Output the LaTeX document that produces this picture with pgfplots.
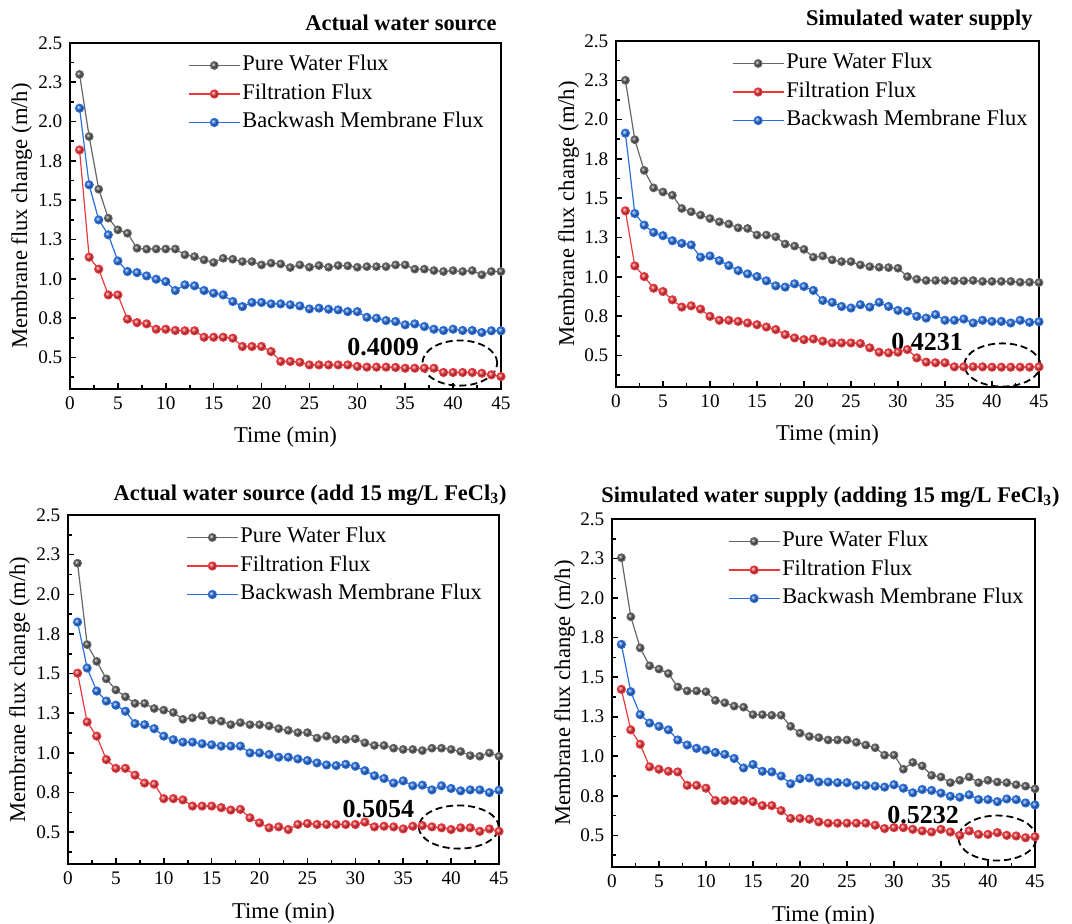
\documentclass[border=0pt]{standalone}
\usepackage{pgfplots}
\pgfplotsset{compat=1.18}
\usepackage{pgfplotstable}
\usepackage{fontspec}
\setmainfont{Liberation Serif}

\definecolor{cgray}{HTML}{555555}
\definecolor{cgrayl}{HTML}{666666}
\definecolor{cred}{HTML}{E8393E}
\definecolor{cblue}{HTML}{2B6FDA}

\pgfplotstableread{
x pure filt back
1 2.300 1.820 2.085
2 1.905 1.138 1.598
3 1.570 1.062 1.375
4 1.386 0.898 1.280
5 1.312 0.898 1.114
6 1.290 0.744 1.047
7 1.195 0.722 1.040
8 1.189 0.714 1.019
9 1.190 0.680 0.998
10 1.190 0.680 0.983
11 1.190 0.672 0.926
12 1.153 0.670 0.962
13 1.142 0.670 0.956
14 1.121 0.629 0.926
15 1.104 0.629 0.909
16 1.131 0.629 0.898
17 1.125 0.623 0.856
18 1.110 0.570 0.824
19 1.110 0.570 0.850
20 1.089 0.570 0.850
21 1.100 0.538 0.841
22 1.095 0.475 0.841
23 1.072 0.475 0.835
24 1.089 0.470 0.828
25 1.074 0.453 0.809
26 1.085 0.453 0.814
27 1.074 0.453 0.807
28 1.085 0.453 0.803
29 1.083 0.453 0.792
30 1.074 0.443 0.792
31 1.078 0.439 0.756
32 1.078 0.439 0.750
33 1.078 0.439 0.735
34 1.089 0.437 0.729
35 1.089 0.432 0.708
36 1.062 0.432 0.714
37 1.062 0.432 0.697
38 1.053 0.432 0.680
39 1.047 0.405 0.672
40 1.053 0.405 0.680
41 1.047 0.405 0.672
42 1.053 0.405 0.672
43 1.026 0.400 0.659
44 1.047 0.390 0.670
45 1.047 0.379 0.670
}\dataA

\pgfplotstableread{
x pure filt back
1 2.250 1.420 1.914
2 1.872 1.070 1.403
3 1.677 1.002 1.329
4 1.566 0.928 1.283
5 1.540 0.907 1.262
6 1.519 0.854 1.230
7 1.435 0.808 1.213
8 1.414 0.816 1.203
9 1.393 0.795 1.125
10 1.371 0.749 1.133
11 1.350 0.724 1.103
12 1.336 0.724 1.072
13 1.312 0.717 1.040
14 1.308 0.707 1.019
15 1.266 0.696 1.002
16 1.266 0.681 0.975
17 1.255 0.665 0.943
18 1.209 0.633 0.935
19 1.196 0.612 0.956
20 1.175 0.601 0.939
21 1.125 0.605 0.914
22 1.133 0.591 0.850
23 1.108 0.580 0.838
24 1.097 0.580 0.812
25 1.097 0.580 0.802
26 1.076 0.576 0.823
27 1.065 0.549 0.808
28 1.061 0.521 0.838
29 1.059 0.517 0.812
30 1.055 0.521 0.787
31 1.002 0.538 0.781
32 0.985 0.485 0.749
33 0.977 0.458 0.738
34 0.977 0.454 0.760
35 0.977 0.454 0.724
36 0.975 0.428 0.724
37 0.975 0.428 0.732
38 0.977 0.428 0.707
39 0.971 0.428 0.724
40 0.971 0.426 0.717
41 0.971 0.426 0.717
42 0.971 0.426 0.707
43 0.966 0.426 0.724
44 0.966 0.426 0.711
45 0.964 0.428 0.715
}\dataB

\pgfplotstableread{
x pure filt back
1 2.196 1.503 1.825
2 1.683 1.195 1.535
3 1.577 1.106 1.390
4 1.467 0.958 1.327
5 1.397 0.903 1.301
6 1.354 0.903 1.263
7 1.312 0.860 1.185
8 1.312 0.810 1.178
9 1.280 0.803 1.153
10 1.270 0.712 1.106
11 1.255 0.712 1.083
12 1.212 0.704 1.068
13 1.221 0.665 1.068
14 1.234 0.665 1.058
15 1.206 0.665 1.051
16 1.200 0.655 1.043
17 1.178 0.640 1.043
18 1.191 0.644 1.043
19 1.178 0.591 1.000
20 1.178 0.559 1.000
21 1.170 0.528 0.990
22 1.153 0.534 0.973
23 1.142 0.517 0.973
24 1.128 0.549 0.962
25 1.128 0.555 0.952
26 1.094 0.549 0.937
27 1.106 0.549 0.924
28 1.085 0.549 0.920
29 1.085 0.549 0.928
30 1.089 0.549 0.916
31 1.064 0.564 0.888
32 1.047 0.534 0.856
33 1.047 0.538 0.839
34 1.030 0.534 0.810
35 1.022 0.521 0.824
36 1.022 0.538 0.793
37 1.015 0.542 0.797
38 1.030 0.534 0.767
39 1.030 0.528 0.793
40 1.022 0.517 0.776
41 1.009 0.528 0.761
42 0.983 0.528 0.767
43 0.979 0.506 0.767
44 1.000 0.521 0.750
45 0.979 0.506 0.765
}\dataC

\pgfplotstableread{
x pure filt back
1 2.255 1.423 1.707
2 1.882 1.167 1.408
3 1.685 1.076 1.263
4 1.572 0.933 1.210
5 1.551 0.918 1.189
6 1.523 0.905 1.167
7 1.438 0.901 1.103
8 1.413 0.816 1.071
9 1.413 0.816 1.050
10 1.408 0.798 1.039
11 1.353 0.720 1.024
12 1.338 0.720 1.012
13 1.317 0.720 0.986
14 1.310 0.720 0.926
15 1.263 0.713 0.948
16 1.263 0.688 0.905
17 1.259 0.688 0.901
18 1.259 0.656 0.875
19 1.189 0.607 0.826
20 1.146 0.607 0.858
21 1.125 0.602 0.862
22 1.118 0.585 0.837
23 1.103 0.577 0.837
24 1.103 0.577 0.833
25 1.103 0.577 0.833
26 1.088 0.577 0.816
27 1.071 0.577 0.816
28 1.054 0.564 0.811
29 1.007 0.543 0.805
30 1.007 0.549 0.820
31 0.918 0.549 0.798
32 0.961 0.538 0.769
33 0.939 0.528 0.790
34 0.879 0.521 0.784
35 0.869 0.538 0.767
36 0.833 0.521 0.747
37 0.848 0.500 0.741
38 0.869 0.528 0.756
39 0.833 0.506 0.726
40 0.848 0.506 0.726
41 0.837 0.517 0.713
42 0.833 0.500 0.730
43 0.820 0.496 0.726
44 0.811 0.485 0.705
45 0.794 0.491 0.692
}\dataD

\tikzset{
  ann/.style={font=\bfseries\fontsize{13}{15}\selectfont, inner sep=0pt},
  ell/.style={draw=black, line width=0.9pt, dash pattern=on 3.5pt off 2pt},
  ttl/.style={anchor=east, inner sep=0pt, font=\bfseries\fontsize{11.2}{13}\selectfont},
}

\pgfplotsset{
  panel/.style={
    scale only axis,
    xmin=0, xmax=45, ymin=0.3, ymax=2.5,
    xtick={0,5,10,15,20,25,30,35,40,45},
    minor xtick={2.5,7.5,12.5,17.5,22.5,27.5,32.5,37.5,42.5},
    ytick={0.5,0.75,1,1.25,1.5,1.75,2,2.25,2.5},
    yticklabels={0.5,0.8,1.0,1.3,1.5,1.8,2.0,2.3,2.5},
    minor ytick={0.375,0.625,0.875,1.125,1.375,1.625,1.875,2.125,2.375},
    tick align=inside, tick pos=left,
    major tick length=3pt, minor tick length=1.8pt,
    every axis/.append style={line width=1pt},
    every tick/.style={black, line width=0.8pt},
    /pgf/number format/assume math mode=true,
    tick label style={font=\fontsize{9.6}{11}\selectfont},
    label style={font=\fontsize{11.3}{13}\selectfont},
    xlabel={Time (min)},
    ylabel={Membrane flux change (m/h)},
    xlabel style={at={(axis description cs:0.5,-0.14)}, anchor=center},
    ylabel style={at={(axis description cs:-0.112,0.5)}, anchor=center},
    clip=false,
    legend cell align=left,
    legend image code/.code={\draw[mark repeat=2,mark phase=2,##1] plot coordinates {(0pt,0pt) (12.75pt,0pt) (25.5pt,0pt)};},
    legend style={draw=none, fill=none, at={(0.272,1)}, anchor=north west, yshift=-4.5pt,
      inner sep=0pt, row sep=1.75pt,
      nodes={inner sep=1pt, text height=8pt, text depth=2.5pt, font=\fontsize{11.2}{13}\selectfont}},
  },
  pw/.style={color=cgrayl, line width=0.6pt, mark=ball, mark size=1.9pt, mark options={ball color=cgray}},
  ff/.style={color=cred, line width=0.6pt, mark=ball, mark size=2pt, mark options={ball color=cred}},
  bw/.style={color=cblue, line width=0.6pt, mark=ball, mark size=2pt, mark options={ball color=cblue}},
}

\begin{document}
\begin{tikzpicture}
\useasboundingbox (0,0) rectangle (536pt,462pt);

% Panel A
\begin{axis}[panel, at={(35pt,267.5pt)}, anchor=south west, width=215.5pt, height=173pt]
\addplot[pw] table[x=x,y=pure]{\dataA};
\addplot[ff] table[x=x,y=filt]{\dataA};
\addplot[bw] table[x=x,y=back]{\dataA};
\legend{Pure Water Flux, Filtration Flux, Backwash Membrane Flux}
\node[ann] at (axis cs:32.7,0.567) {0.4009};
\draw[ell] (axis cs:40.7,0.465) ellipse [x radius=18.7pt, y radius=11.3pt];
\end{axis}

% Panel B
\begin{axis}[panel, at={(308pt,268.5pt)}, anchor=south west, width=211.5pt, height=173pt]
\addplot[pw] table[x=x,y=pure]{\dataB};
\addplot[ff] table[x=x,y=filt]{\dataB};
\addplot[bw] table[x=x,y=back]{\dataB};
\legend{Pure Water Flux, Filtration Flux, Backwash Membrane Flux}
\node[ann] at (axis cs:33.1,0.586) {0.4231};
\draw[ell] (axis cs:41.1,0.44) ellipse [x radius=19pt, y radius=10.8pt];
\end{axis}

% Panel C
\begin{axis}[panel, at={(34pt,30pt)}, anchor=south west, width=215.5pt, height=174.5pt]
\addplot[pw] table[x=x,y=pure]{\dataC};
\addplot[ff] table[x=x,y=filt]{\dataC};
\addplot[bw] table[x=x,y=back]{\dataC};
\legend{Pure Water Flux, Filtration Flux, Backwash Membrane Flux}
\node[ann] at (axis cs:32.4,0.647) {0.5054};
\draw[ell] (axis cs:40.8,0.533) ellipse [x radius=20pt, y radius=10.8pt];
\end{axis}

% Panel D
\begin{axis}[panel, at={(306pt,28.5pt)}, anchor=south west, width=211.5pt, height=174pt]
\addplot[pw] table[x=x,y=pure]{\dataD};
\addplot[ff] table[x=x,y=filt]{\dataD};
\addplot[bw] table[x=x,y=back]{\dataD};
\legend{Pure Water Flux, Filtration Flux, Backwash Membrane Flux}
\node[ann] at (axis cs:33.1,0.629) {0.5232};
\draw[ell] (axis cs:41.0,0.483) ellipse [x radius=19.5pt, y radius=11.25pt];
\end{axis}

\node[ttl] at (248.5pt,450.5pt) {Actual water source};
\node[ttl] at (516.5pt,452pt) {Simulated water supply};
\node[ttl] at (253.5pt,214.5pt) {Actual water source (add 15 mg/L FeCl\textsubscript{3})};
\node[ttl] at (530pt,213.5pt) {Simulated water supply (adding 15 mg/L FeCl\textsubscript{3})};
\end{tikzpicture}
\end{document}
